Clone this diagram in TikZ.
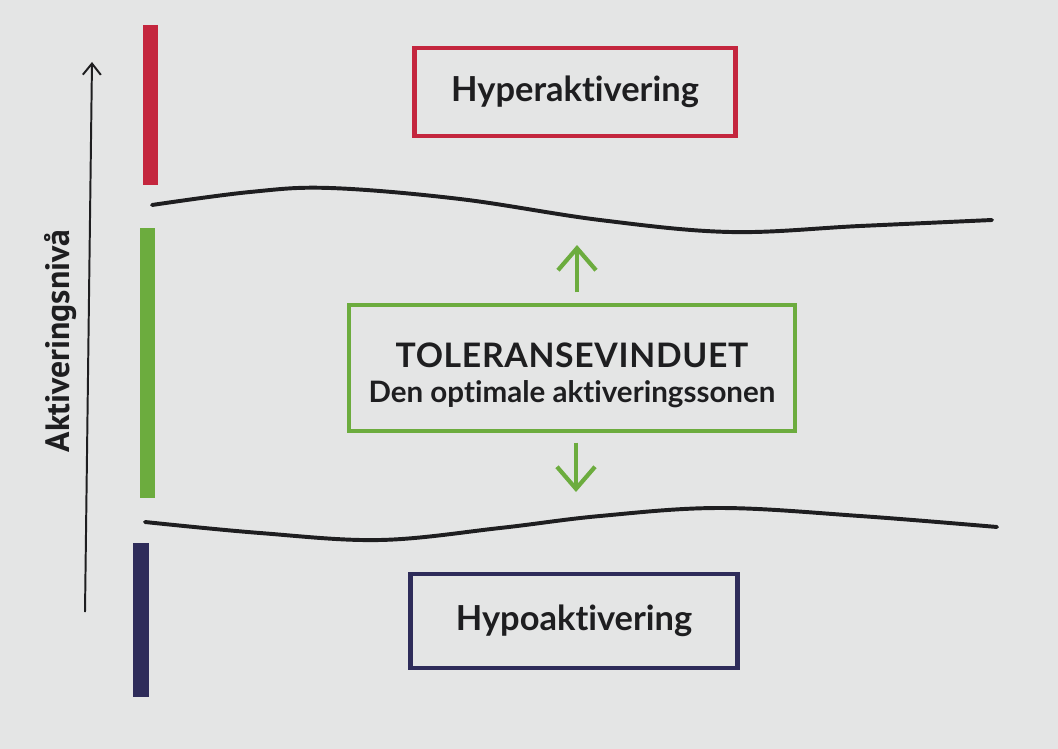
\documentclass[tikz,border=0pt]{standalone}
\usepackage{fontspec}
\setmainfont{Lato}[Ligatures=NoCommon]
\newfontfamily\axisfont{PT Sans}
\usepackage{xcolor}
\usetikzlibrary{arrows.meta,positioning}
\definecolor{zoneRed}{RGB}{196,38,62}
\definecolor{zoneGreen}{RGB}{108,172,62}
\definecolor{zoneNavy}{RGB}{46,44,90}
\definecolor{pageGray}{RGB}{228,229,229}
\definecolor{inkBlack}{RGB}{30,30,32}

\begin{document}
\begin{tikzpicture}[
    x=0.025cm, y=-0.025cm,
    zone/.style={rectangle, draw, line width=3.4pt, inner sep=0pt, text=inkBlack, align=center, font=\bfseries\fontsize{24.5}{29}\selectfont},
    bar/.style={line width=0.375cm},
    wave/.style={inkBlack, line width=2.8pt, line cap=round},
    zoneArrow/.style={zoneGreen, line width=3pt, -{Straight Barb[length=0.55cm, width=0.95cm]}},
    axisArrow/.style={inkBlack, line width=1.4pt, -{Straight Barb[length=0.28cm, width=0.45cm]}}
]
    \fill[pageGray] (0,0) rectangle (1058,749);

    \node[zone, draw=zoneRed, minimum width=8.03cm, minimum height=2.2cm] (hyper) at (575,92) {Hyperaktivering};
    \node[zone, draw=zoneGreen, minimum width=11.13cm, minimum height=3.13cm, line width=3pt, text height=1.86cm, font=\bfseries\fontsize{21}{25}\selectfont] (tol) at (572,368)
        {{\fontsize{24}{26}\selectfont\addfontfeature{LetterSpace=2}TOLERANSEVINDUET}\\[0pt]Den optimale aktiveringssonen};
    \node[zone, draw=zoneNavy, minimum width=8.18cm, minimum height=2.35cm] (hypo) at (574,621) {Hypoaktivering};

    \node[rotate=90, text=inkBlack, font=\axisfont\bfseries\fontsize{24}{28}\selectfont] (axisLabel) at (61,341) {Aktiveringsnivå};
    \coordinate (axisFoot) at (85,612);
    \coordinate (axisHead) at (92,62);
    \draw[axisArrow] (axisFoot) -- (axisHead);

    \draw[bar, zoneRed] (150,25) -- (150,185);
    \draw[bar, zoneGreen] (147,228) -- (147,498);
    \draw[bar, zoneNavy] (141,543) -- (141,697);

    \draw[wave] plot[smooth, tension=0.6] coordinates {(152,205) (250,192) (330,188) (460,199) (600,220) (730,232) (860,226) (992,220)};
    \draw[wave] plot[smooth, tension=0.6] coordinates {(145,522) (260,533) (380,540) (500,528) (600,516) (720,508) (860,516) (997,527)};

    \coordinate (upTip) at (577,245);
    \coordinate (downTip) at (576,492);
    \draw[zoneArrow, shorten <=0.27cm] (tol.north -| upTip) -- (upTip);
    \draw[zoneArrow, shorten <=0.25cm] (tol.south -| downTip) -- (downTip);
\end{tikzpicture}
\end{document}
